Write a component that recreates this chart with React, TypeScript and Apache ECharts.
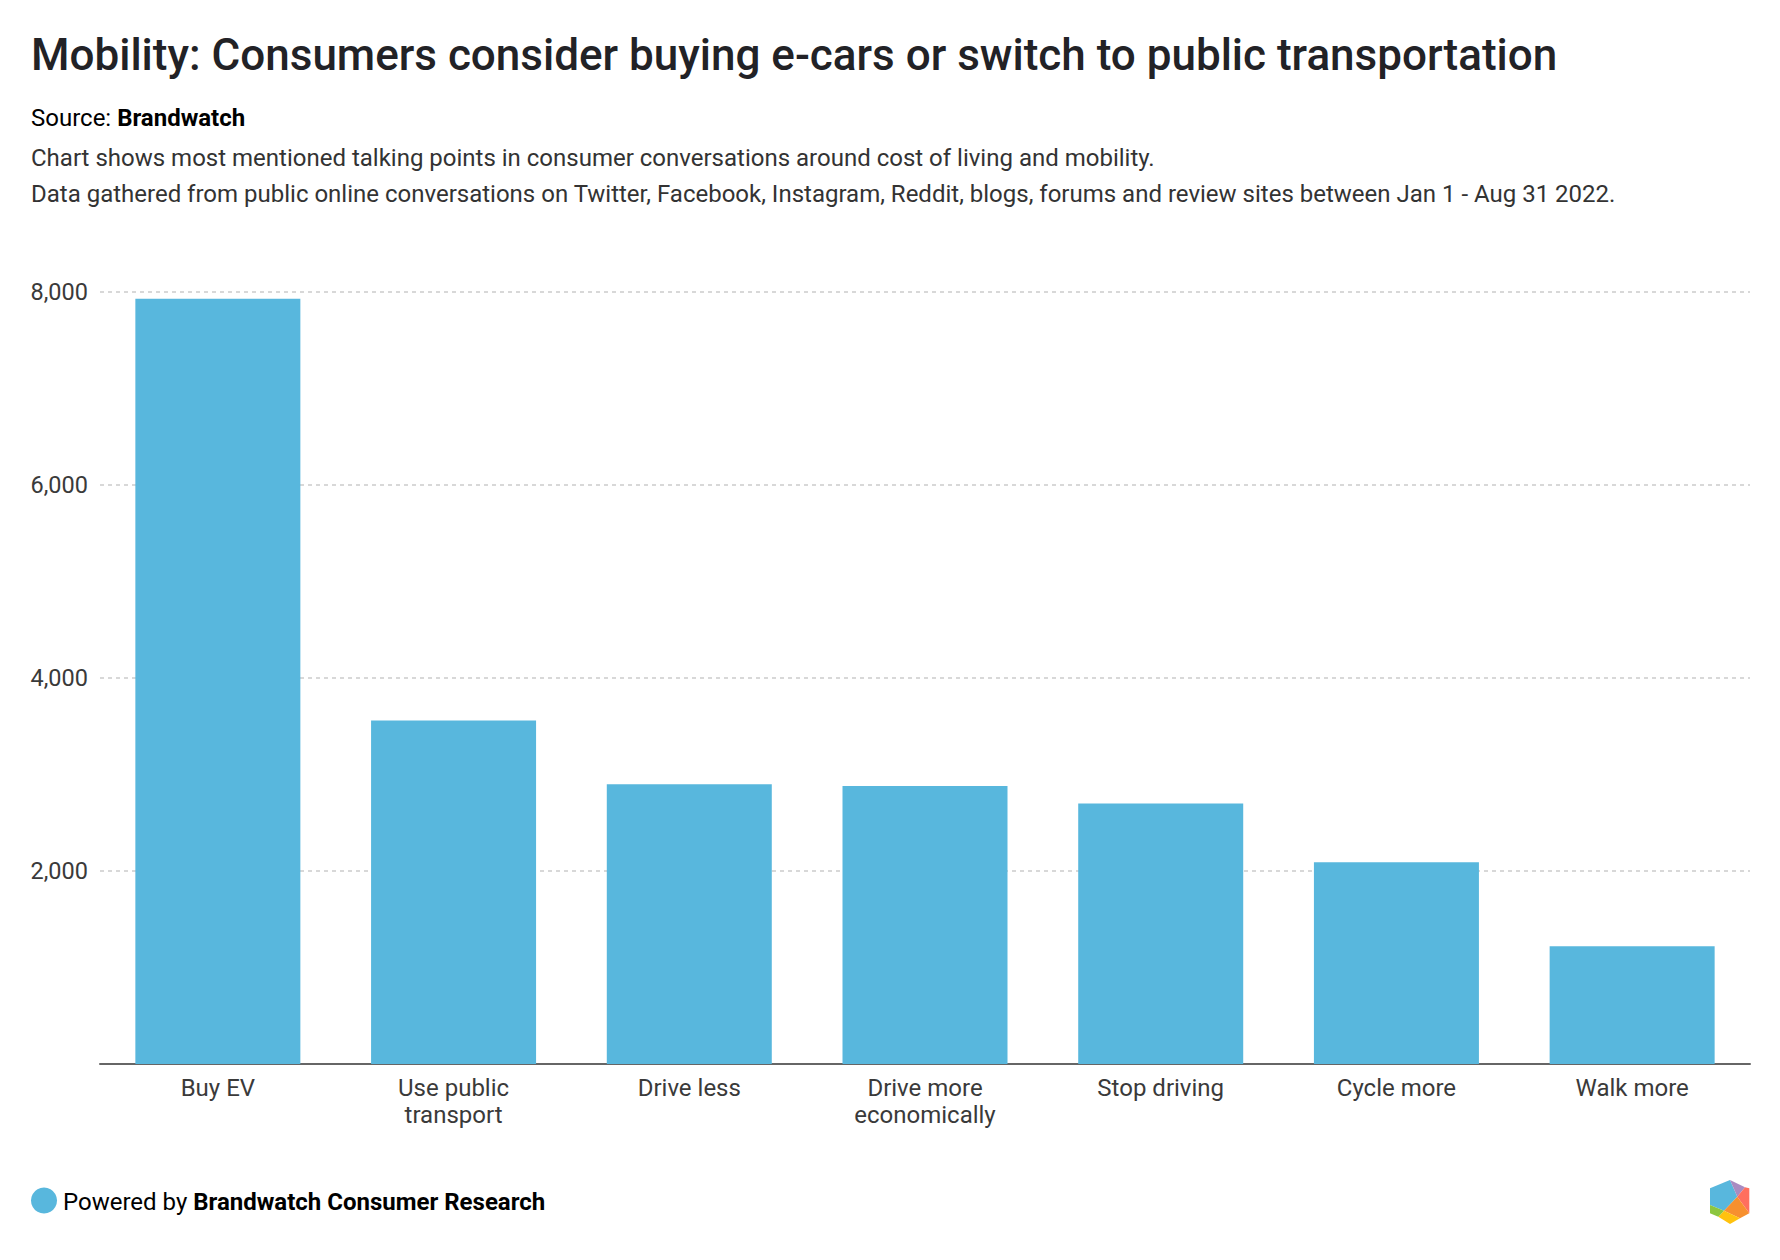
import React, { useEffect, useRef } from "react";
import * as echarts from "echarts";

const categories = [
  "Buy EV",
  "Use public\ntransport",
  "Drive less",
  "Drive more\neconomically",
  "Stop driving",
  "Cycle more",
  "Walk more",
];
const mentions = [7930, 3560, 2900, 2880, 2700, 2090, 1220];
const yTicks = { min: 0, max: 8000, interval: 2000 };

const titleText = "Mobility: Consumers consider buying e-cars or switch to public transportation";
const descLine1 =
  "Chart shows most mentioned talking points in consumer conversations around cost of living and mobility.";
const descLine2 =
  "Data gathered from public online conversations on Twitter, Facebook, Instagram, Reddit, blogs, forums and review sites between Jan 1 - Aug 31 2022.";

const BLUE = "#58b7dd";
const FONT = "Roboto";

export default function App() {
  const ref = useRef<HTMLDivElement>(null);
  useEffect(() => {
    document.body.style.margin = "0";
    const chart = echarts.init(ref.current!, null, { renderer: "svg" });
    const hex = (pts: number[][], fill: string) => ({
      type: "polygon",
      shape: { points: pts },
      style: { fill },
      silent: true,
    });
    chart.setOption({
      animation: false,
      backgroundColor: "#fff",
      grid: { left: 100, right: 30, top: 292, bottom: 196, containLabel: false },
      xAxis: {
        type: "category",
        data: categories,
        axisTick: { show: false },
        axisLine: { lineStyle: { color: "#666", width: 2 } },
        axisLabel: {
          color: "#3a3a3a",
          fontFamily: FONT,
          fontSize: 24,
          lineHeight: 27,
          margin: 10,
          interval: 0,
        },
      },
      yAxis: {
        type: "value",
        min: yTicks.min,
        max: yTicks.max,
        interval: yTicks.interval,
        axisLine: { show: false },
        axisTick: { show: false },
        axisLabel: {
          color: "#3a3a3a",
          fontFamily: FONT,
          fontSize: 23.5,
          margin: 12,
          formatter: (v: number) => (v === 0 ? "" : v.toLocaleString("en-US")),
        },
        splitLine: {
          lineStyle: { color: "#cccccc", type: [4, 4], width: 1.6 },
        },
      },
      series: [
        {
          type: "bar",
          data: mentions,
          barCategoryGap: "30%",
          itemStyle: { color: BLUE },
          emphasis: { disabled: true },
        },
      ],
      graphic: [
        {
          type: "text",
          x: 31,
          y: 55,
          style: {
            text: titleText,
            font: `500 44px ${FONT}`,
            fill: "#222226",
            verticalAlign: "middle",
          },
        },
        {
          type: "text",
          x: 31,
          y: 117.5,
          style: {
            text: "{a|Source: }{b|Brandwatch}",
            verticalAlign: "middle",
            rich: {
              a: { fontFamily: FONT, fontSize: 24, color: "#333" },
              b: { fontFamily: FONT, fontSize: 24, fontWeight: "bold", color: "#222226" },
            },
          },
        },
        {
          type: "text",
          x: 31,
          y: 157.5,
          style: {
            text: descLine1,
            font: `400 24px ${FONT}`,
            fill: "#333",
            verticalAlign: "middle",
          },
        },
        {
          type: "text",
          x: 31,
          y: 193.5,
          style: {
            text: descLine2,
            font: `400 24px ${FONT}`,
            fill: "#333",
            verticalAlign: "middle",
          },
        },
        {
          type: "circle",
          shape: { cx: 44, cy: 1200.5, r: 13 },
          style: { fill: BLUE },
        },
        {
          type: "text",
          x: 63,
          y: 1202,
          style: {
            text: "{a|Powered by }{b|Brandwatch Consumer Research}",
            verticalAlign: "middle",
            rich: {
              a: { fontFamily: FONT, fontSize: 24, color: "#333" },
              b: { fontFamily: FONT, fontSize: 24, fontWeight: "bold", color: "#222226" },
            },
          },
        },
        {
          type: "group",
          children: [
            hex([[1710, 1188.3], [1730, 1180], [1737.3, 1196.7], [1724, 1210.7], [1710, 1205]], BLUE),
            hex([[1730, 1180], [1745, 1187.3], [1737.3, 1196.7]], "#a98bc1"),
            hex([[1745, 1187.3], [1749.3, 1188.3], [1749.3, 1213.3], [1737.3, 1196.7]], "#ff6f5e"),
            hex([[1737.3, 1196.7], [1749.3, 1213.3], [1740, 1218.3], [1724, 1210.7]], "#f7902f"),
            hex([[1724, 1210.7], [1740, 1218.3], [1730, 1224], [1718.3, 1216.7]], "#ffc20e"),
            hex([[1710, 1205], [1724, 1210.7], [1718.3, 1216.7], [1710, 1213.3]], "#8cc63f"),
          ],
        },
      ],
    });
    return () => chart.dispose();
  }, []);
  return <div ref={ref} style={{ width: 1780, height: 1260, display: "block" }} />;
}
